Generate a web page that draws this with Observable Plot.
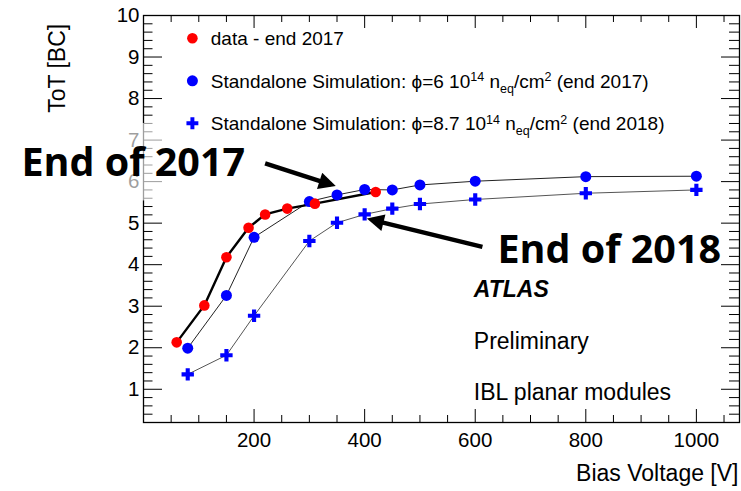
<!DOCTYPE html>
<html>
<head>
<meta charset="utf-8">
<script src="https://cdn.jsdelivr.net/npm/d3@7"></script>
<script src="https://cdn.jsdelivr.net/npm/@observablehq/plot@0.6"></script>
<style>
  html, body { margin: 0; padding: 0; background: #fff; }
  #chart svg { display: block; }
</style>
</head>
<body>
<div id="chart"></div>
<script>
// ---------- data ----------
const dataVoltage   = [60, 110, 150, 190, 220, 260, 310, 420];
const dataToT       = [2.13, 3.02, 4.18, 4.89, 5.21, 5.35, 5.47, 5.75];

const sim2017Voltage = [80, 150, 200, 300, 350, 400, 450, 500, 600, 800, 1000];
const sim2017ToT     = [1.99, 3.26, 4.66, 5.52, 5.68, 5.81, 5.80, 5.92, 6.01, 6.12, 6.13];

const sim2018Voltage = [80, 150, 200, 300, 350, 400, 450, 500, 600, 800, 1000];
const sim2018ToT     = [1.36, 1.82, 2.77, 4.57, 5.01, 5.21, 5.35, 5.46, 5.57, 5.72, 5.80];

const xTickValues = [200, 400, 600, 800, 1000];
const yTickValues = [1, 2, 3, 4, 5, 6, 7, 8, 9, 10];

const xTitle = "Bias Voltage [V]";
const yTitle = "ToT [BC]";
const infoLabels = ["ATLAS", "Preliminary", "IBL planar modules"];

// legend rows: [text, "sup"|"sub"|undefined]
const legendRows = [
  [["data - end 2017"]],
  [["Standalone Simulation: \u03D5=6 10"], ["14", "sup"], [" n"], ["eq", "sub"], ["/cm"], ["2", "sup"], [" (end 2017)"]],
  [["Standalone Simulation: \u03D5=8.7 10"], ["14", "sup"], [" n"], ["eq", "sub"], ["/cm"], ["2", "sup"], [" (end 2018)"]]
];

// annotations: arrow tail (x1,y1) -> head (x2,y2), in data units
const annotation2017 = {label: "End of 2017", x1: 220, y1: 6.44, x2: 339, y2: 5.93};
const annotation2018 = {label: "End of 2018", x1: 613, y1: 4.43, x2: 413, y2: 5.08};

// ---------- build records ----------
const dataPts    = dataVoltage.map((v, i) => ({v, t: dataToT[i]}));
const sim2017Pts = sim2017Voltage.map((v, i) => ({v, t: sim2017ToT[i]}));
const sim2018Pts = sim2018Voltage.map((v, i) => ({v, t: sim2018ToT[i]}));

const xMinor = d3.range(50, 1078, 50).filter(v => v % 200 !== 0);
const yMinor = d3.range(2, 50).map(i => i / 5).filter(v => !Number.isInteger(v));

const FONT = "'Liberation Sans', Arial, Helvetica, sans-serif";
const W = 741, H = 491;
const mL = 143, mT = 15, mR = 2, mB = 69;
const innerW = W - mL - mR, innerH = H - mT - mB;

function headMarker(color, context) {
  const doc = (context && context.document) || document;
  const ns = "http://www.w3.org/2000/svg";
  const m = doc.createElementNS(ns, "marker");
  m.setAttribute("viewBox", "0 -5 10 10");
  m.setAttribute("refX", "7");
  m.setAttribute("refY", "0");
  m.setAttribute("markerUnits", "userSpaceOnUse");
  m.setAttribute("markerWidth", "22");
  m.setAttribute("markerHeight", "17");
  m.setAttribute("orient", "auto");
  m.setAttribute("stroke", "none");
  const p = doc.createElementNS(ns, "path");
  p.setAttribute("d", "M0,-5L10,0L0,5Z");
  p.setAttribute("fill", "black");
  p.setAttribute("stroke", "none");
  m.appendChild(p);
  return m;
}

function arrowMarks(useCustom) {
  const anns = [annotation2017, annotation2018];
  if (useCustom) {
    return [Plot.link(anns, {x1: "x1", y1: "y1", x2: "x2", y2: "y2", stroke: "black", strokeWidth: 4.5, markerEnd: headMarker})];
  }
  return [Plot.arrow(anns, {x1: "x1", y1: "y1", x2: "x2", y2: "y2", stroke: "black", strokeWidth: 4.5, headLength: 5, headAngle: 50})];
}

function build(useCustom) {
  return Plot.plot({
    width: W, height: H,
    marginLeft: mL, marginTop: mT, marginRight: mR, marginBottom: mB,
    x: {domain: [0, 1078]},
    y: {domain: [0.2, 10]},
    style: {fontFamily: FONT, background: "white", color: "black", fontSize: "20px"},
    marks: [
      // ticks (inside the frame, all four sides)
      Plot.tickX(xTickValues, {x: d => d, insetTop: innerH - 13, stroke: "black"}),
      Plot.tickX(xMinor, {x: d => d, insetTop: innerH - 7, stroke: "black"}),
      Plot.tickX(xTickValues, {x: d => d, insetBottom: innerH - 13, stroke: "black"}),
      Plot.tickX(xMinor, {x: d => d, insetBottom: innerH - 7, stroke: "black"}),
      Plot.tickY(yTickValues, {y: d => d, insetRight: innerW - 19, stroke: "black"}),
      Plot.tickY(yMinor, {y: d => d, insetRight: innerW - 9.5, stroke: "black"}),
      Plot.tickY(yTickValues, {y: d => d, insetLeft: innerW - 18, stroke: "black"}),
      Plot.tickY(yMinor, {y: d => d, insetLeft: innerW - 10, stroke: "black"}),
      Plot.frame({stroke: "black", strokeWidth: 1.3}),
      Plot.axisX({ticks: xTickValues, tickSize: 0, tickPadding: 10, label: null, fontSize: 20.5, tickFormat: d => String(d)}),
      Plot.axisY({ticks: yTickValues, tickSize: 0, tickPadding: 4, label: null, fontSize: 20.5, tickFormat: d => String(d)}),
      // axis titles
      Plot.text([xTitle], {text: d => d, frameAnchor: "bottom-right", textAnchor: "end", lineAnchor: "middle", dx: -1, dy: 51.6, fontSize: 23, fill: "black"}),
      Plot.text([yTitle], {text: d => d, frameAnchor: "top-left", rotate: -90, textAnchor: "end", lineAnchor: "middle", dx: -85.4, dy: 8.3, fontSize: 23, fill: "black"}),
      // info labels
      Plot.text([infoLabels[0]], {text: d => d, frameAnchor: "top-left", textAnchor: "start", lineAnchor: "middle", dx: 330.3, dy: 274.3, fontSize: 23, fontWeight: "bold", fontStyle: "italic", fill: "black"}),
      Plot.text([infoLabels[1]], {text: d => d, frameAnchor: "top-left", textAnchor: "start", lineAnchor: "middle", dx: 330.3, dy: 326.6, fontSize: 23, fill: "black"}),
      Plot.text([infoLabels[2]], {text: d => d, frameAnchor: "top-left", textAnchor: "start", lineAnchor: "middle", dx: 330.3, dy: 377.6, fontSize: 23, fill: "black"}),
      // curves
      Plot.line(sim2018Pts, {x: "v", y: "t", stroke: "#555", strokeWidth: 1}),
      Plot.line(sim2017Pts, {x: "v", y: "t", stroke: "#222", strokeWidth: 1}),
      Plot.line(dataPts, {x: "v", y: "t", stroke: "black", strokeWidth: 2.4}),
      // markers
      Plot.dot(sim2018Pts, {x: "v", y: "t", symbol: "cross", r: 5.2, fill: "#0000ff", stroke: "none"}),
      Plot.dot(sim2017Pts, {x: "v", y: "t", symbol: "circle", r: 5.5, fill: "#0000ff", stroke: "none"}),
      Plot.dot(dataPts, {x: "v", y: "t", symbol: "circle", r: 5.3, fill: "#ff0000", stroke: "none"}),
      // annotations
      ...arrowMarks(useCustom),
      Plot.text([annotation2018], {x: "x1", y: "y1", text: "label", textAnchor: "start", lineAnchor: "middle", dx: 15, dy: 4, fontSize: 39.5, fontWeight: 700, fontFamily: "'Open Sans', 'Noto Sans', sans-serif", fill: "black"}),
      Plot.text([annotation2017], {x: "x1", y: "y1", text: "label", textAnchor: "end", lineAnchor: "middle", dx: -20, dy: 0, fontSize: 39.5, fontWeight: 700, fontFamily: "'Open Sans', 'Noto Sans', sans-serif", fill: "black"})
    ]
  });
}

let chart;
try { chart = build(true); } catch (e) { chart = build(false); }
document.getElementById("chart").append(chart);

// ---------- translucent backdrop behind "End of 2017" ----------
const ns = "http://www.w3.org/2000/svg";
const t17 = [...chart.querySelectorAll("text")].find(t => t.textContent === annotation2017.label);
if (t17) {
  const bb = t17.getBBox();
  const r = document.createElementNS(ns, "rect");
  r.setAttribute("x", bb.x - 10);
  r.setAttribute("y", bb.y - 11);
  r.setAttribute("width", bb.width + 18);
  r.setAttribute("height", bb.height + 23.5);
  r.setAttribute("fill", "white");
  r.setAttribute("fill-opacity", "0.62");
  r.setAttribute("stroke", "none");
  if (t17.getAttribute("transform")) r.setAttribute("transform", t17.getAttribute("transform"));
  t17.parentNode.insertBefore(r, t17);
}

// ---------- legend ----------
const svgSel = d3.select(chart);
const lg = svgSel.append("g")
  .attr("font-family", FONT).attr("font-size", 19).attr("fill", "black")
  .attr("text-anchor", "start").attr("stroke", "none");
const symX = 192.4, textX = 210.8, row0 = 38.3, rowStep = 42.5;
legendRows.forEach((row, i) => {
  const cy = row0 + i * rowStep;
  if (i === 0) lg.append("circle").attr("cx", symX).attr("cy", cy).attr("r", 5.3).attr("fill", "#ff0000");
  else if (i === 1) lg.append("circle").attr("cx", symX).attr("cy", cy).attr("r", 5.5).attr("fill", "#0000ff");
  else lg.append("path").attr("d", d3.symbol(d3.symbolCross, Math.PI * 5 * 5)()).attr("transform", `translate(${symX},${cy})`).attr("fill", "#0000ff");
  const t = lg.append("text").attr("x", textX).attr("y", cy + 6.8).attr("text-anchor", "start");
  let shift = 0;
  row.forEach(([s, kind]) => {
    const target = kind === "sup" ? -6.5 : kind === "sub" ? 5 : 0;
    const ts = t.append("tspan").attr("dy", target - shift).text(s);
    if (kind) ts.attr("font-size", 12.5);
    shift = target;
  });
});
</script>
</body>
</html>
